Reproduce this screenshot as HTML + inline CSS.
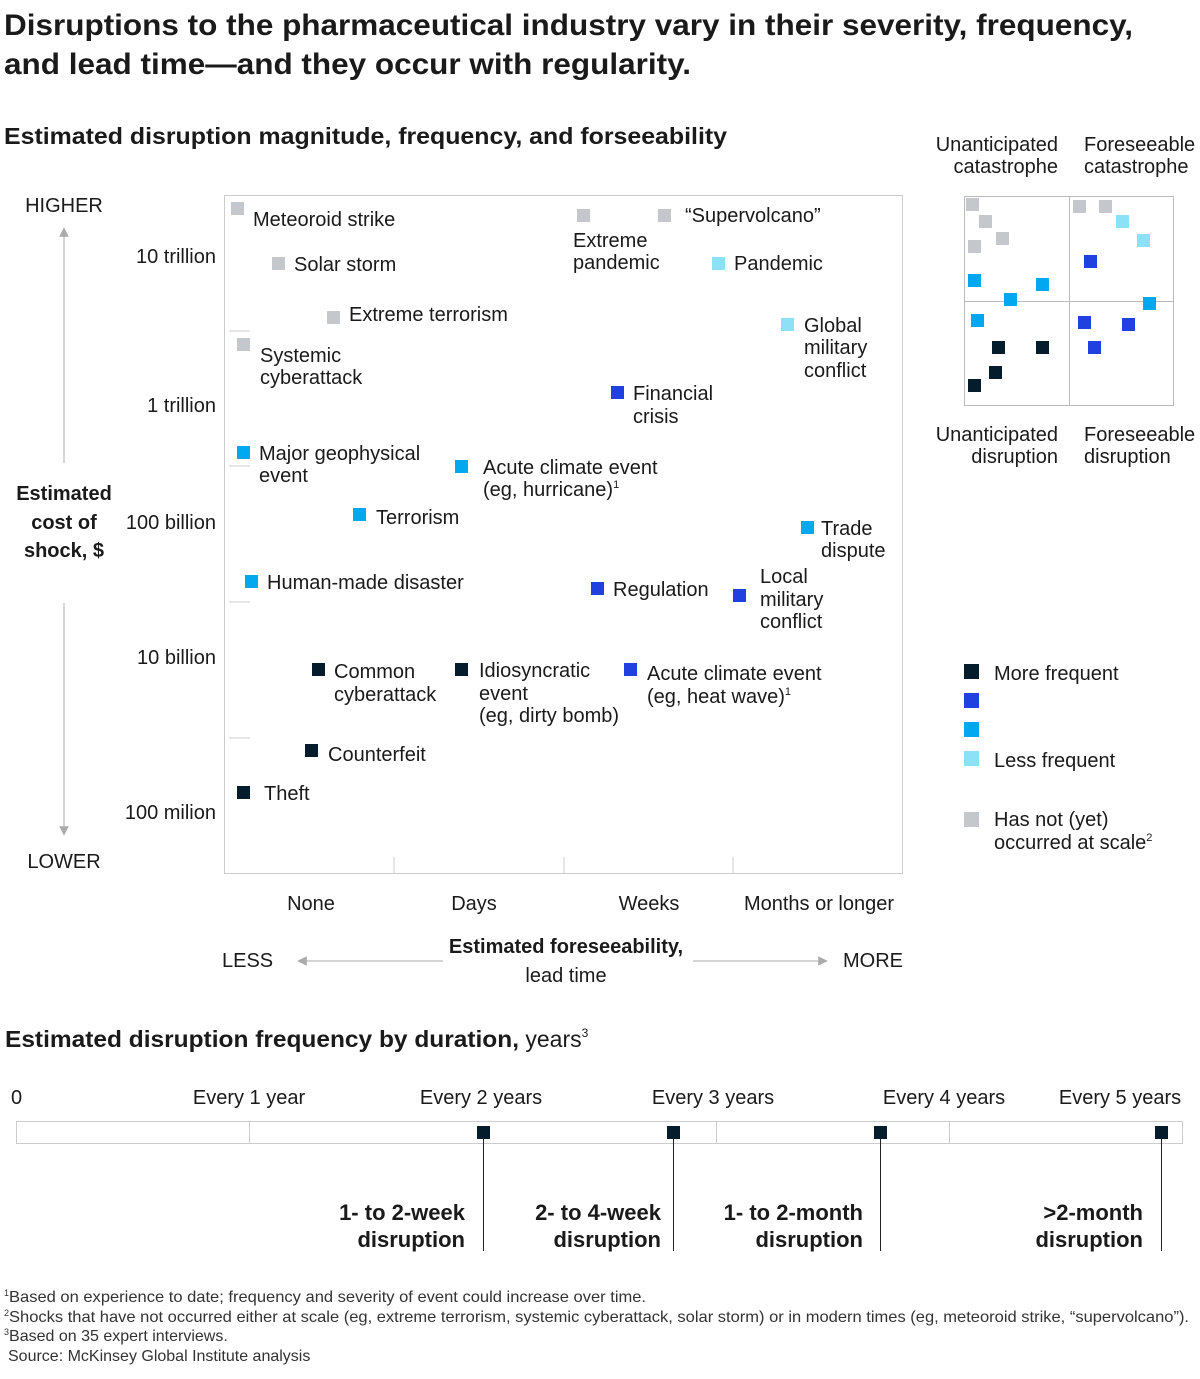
<!DOCTYPE html>
<html><head><meta charset="utf-8"><style>
body{margin:0;background:#fff}
svg{display:block;font-family:"Liberation Sans",Arial,sans-serif;fill:#1a1a1a}
.b{font-weight:bold}
</style></head><body>
<svg width="1200" height="1379" viewBox="0 0 1200 1379" xmlns="http://www.w3.org/2000/svg">
<defs><marker id="ah" markerWidth="8" markerHeight="8" refX="4" refY="4" orient="auto"><path d="M0,0 L8,4 L0,8 z" fill="#aaa"/></marker></defs>
<text x="4" y="35" font-size="30" class="b" textLength="1129" lengthAdjust="spacingAndGlyphs">Disruptions to the pharmaceutical industry vary in their severity, frequency,</text>
<text x="4" y="74" font-size="30" class="b" textLength="687" lengthAdjust="spacingAndGlyphs">and lead time—and they occur with regularity.</text>
<text x="4" y="144" font-size="23" class="b" textLength="723" lengthAdjust="spacingAndGlyphs">Estimated disruption magnitude, frequency, and forseeability</text>

<!-- main box -->
<rect x="224.5" y="195.5" width="678" height="678" fill="none" stroke="#ccc"/>
<g stroke="#ccc"><line x1="394" y1="857" x2="394" y2="874"/><line x1="564" y1="857" x2="564" y2="874"/><line x1="733" y1="857" x2="733" y2="874"/>
<line x1="229" y1="331" x2="250" y2="331"/><line x1="229" y1="466" x2="250" y2="466"/><line x1="229" y1="602" x2="250" y2="602"/><line x1="229" y1="738" x2="250" y2="738"/></g>

<g font-size="20" text-anchor="end">
<text x="216" y="263">10 trillion</text><text x="216" y="412">1 trillion</text><text x="216" y="529">100 billion</text><text x="216" y="664">10 billion</text><text x="216" y="819">100 milion</text></g>
<g font-size="20" text-anchor="middle">
<text x="64" y="212">HIGHER</text><text x="64" y="868">LOWER</text>
<text x="64" y="500" class="b">Estimated</text><text x="64" y="529" class="b">cost of</text><text x="64" y="557" class="b">shock, $</text>
<text x="311" y="910">None</text><text x="474" y="910">Days</text><text x="649" y="910">Weeks</text><text x="819" y="910">Months or longer</text>
<text x="566" y="953" class="b">Estimated foreseeability,</text><text x="566" y="982">lead time</text></g>
<text x="222" y="967" font-size="20">LESS</text><text x="843" y="967" font-size="20">MORE</text>
<g stroke="#bbb" stroke-width="1.2">
<line x1="64" y1="463" x2="64" y2="232" marker-end="url(#ah)"/><line x1="64" y1="603" x2="64" y2="831" marker-end="url(#ah)"/>
<line x1="443" y1="961" x2="302" y2="961" marker-end="url(#ah)"/><line x1="693" y1="961" x2="823" y2="961" marker-end="url(#ah)"/></g>

<!-- points -->
<g>
<rect x="231" y="202" width="13" height="13" fill="#c4c7cc"/>
<rect x="272" y="257" width="13" height="13" fill="#c4c7cc"/>
<rect x="327" y="311" width="13" height="13" fill="#c4c7cc"/>
<rect x="237" y="338" width="13" height="13" fill="#c4c7cc"/>
<rect x="577" y="209" width="13" height="13" fill="#c4c7cc"/>
<rect x="658" y="209" width="13" height="13" fill="#c4c7cc"/>
<rect x="712" y="257" width="13" height="13" fill="#8de1f7"/>
<rect x="781" y="318" width="13" height="13" fill="#8de1f7"/>
<rect x="611" y="386" width="13" height="13" fill="#2140e0"/>
<rect x="237" y="446" width="13" height="13" fill="#00a8f0"/>
<rect x="455" y="460" width="13" height="13" fill="#00a8f0"/>
<rect x="353" y="508" width="13" height="13" fill="#00a8f0"/>
<rect x="801" y="521" width="13" height="13" fill="#00a8f0"/>
<rect x="245" y="575" width="13" height="13" fill="#00a8f0"/>
<rect x="591" y="582" width="13" height="13" fill="#2140e0"/>
<rect x="733" y="589" width="13" height="13" fill="#2140e0"/>
<rect x="312" y="663" width="13" height="13" fill="#051c2c"/>
<rect x="455" y="663" width="13" height="13" fill="#051c2c"/>
<rect x="624" y="663" width="13" height="13" fill="#2140e0"/>
<rect x="305" y="744" width="13" height="13" fill="#051c2c"/>
<rect x="237" y="786" width="13" height="13" fill="#051c2c"/>
</g>
<g font-size="20">
<text x="253" y="226">Meteoroid strike</text>
<text x="294" y="271">Solar storm</text>
<text x="349" y="321">Extreme terrorism</text>
<text x="260" y="362">Systemic</text><text x="260" y="384">cyberattack</text>
<text x="573" y="247">Extreme</text><text x="573" y="269">pandemic</text>
<text x="685" y="222">“Supervolcano”</text>
<text x="734" y="270">Pandemic</text>
<text x="804" y="332">Global</text><text x="804" y="354">military</text><text x="804" y="377">conflict</text>
<text x="633" y="400">Financial</text><text x="633" y="423">crisis</text>
<text x="259" y="460">Major geophysical</text><text x="259" y="482">event</text>
<text x="483" y="474">Acute climate event</text><text x="483" y="496">(eg, hurricane)<tspan font-size="11" dy="-8">1</tspan></text>
<text x="376" y="524">Terrorism</text>
<text x="821" y="535">Trade</text><text x="821" y="557">dispute</text>
<text x="267" y="589">Human-made disaster</text>
<text x="613" y="596">Regulation</text>
<text x="760" y="583">Local</text><text x="760" y="606">military</text><text x="760" y="628">conflict</text>
<text x="334" y="678">Common</text><text x="334" y="701">cyberattack</text>
<text x="479" y="677">Idiosyncratic</text><text x="479" y="700">event</text><text x="479" y="722">(eg, dirty bomb)</text>
<text x="647" y="680">Acute climate event</text><text x="647" y="703">(eg, heat wave)<tspan font-size="11" dy="-8">1</tspan></text>
<text x="328" y="761">Counterfeit</text>
<text x="264" y="800">Theft</text>
</g>

<!-- quadrant -->
<g font-size="20">
<text x="1058" y="151" text-anchor="end">Unanticipated</text><text x="1058" y="173" text-anchor="end">catastrophe</text>
<text x="1084" y="151">Foreseeable</text><text x="1084" y="173">catastrophe</text>
<text x="1058" y="441" text-anchor="end">Unanticipated</text><text x="1058" y="463" text-anchor="end">disruption</text>
<text x="1084" y="441">Foreseeable</text><text x="1084" y="463">disruption</text></g>
<rect x="964.5" y="196.5" width="209" height="209" fill="none" stroke="#bbb"/>
<line x1="1069.5" y1="196" x2="1069.5" y2="406" stroke="#bbb"/><line x1="964" y1="301.5" x2="1174" y2="301.5" stroke="#bbb"/>
<g>
<rect x="966" y="198" width="13" height="13" fill="#c4c7cc"/><rect x="979" y="215" width="13" height="13" fill="#c4c7cc"/>
<rect x="996" y="232" width="13" height="13" fill="#c4c7cc"/><rect x="968" y="240" width="13" height="13" fill="#c4c7cc"/>
<rect x="968" y="274" width="13" height="13" fill="#00a8f0"/><rect x="1036" y="278" width="13" height="13" fill="#00a8f0"/>
<rect x="1004" y="293" width="13" height="13" fill="#00a8f0"/>
<rect x="1073" y="200" width="13" height="13" fill="#c4c7cc"/><rect x="1099" y="200" width="13" height="13" fill="#c4c7cc"/>
<rect x="1116" y="215" width="13" height="13" fill="#8de1f7"/><rect x="1137" y="234" width="13" height="13" fill="#8de1f7"/>
<rect x="1084" y="255" width="13" height="13" fill="#2140e0"/><rect x="1143" y="297" width="13" height="13" fill="#00a8f0"/>
<rect x="971" y="314" width="13" height="13" fill="#00a8f0"/>
<rect x="992" y="341" width="13" height="13" fill="#051c2c"/><rect x="1036" y="341" width="13" height="13" fill="#051c2c"/>
<rect x="989" y="366" width="13" height="13" fill="#051c2c"/><rect x="968" y="379" width="13" height="13" fill="#051c2c"/>
<rect x="1078" y="316" width="13" height="13" fill="#2140e0"/><rect x="1122" y="318" width="13" height="13" fill="#2140e0"/>
<rect x="1088" y="341" width="13" height="13" fill="#2140e0"/>
</g>

<!-- legend -->
<rect x="964" y="664" width="15" height="15" fill="#051c2c"/>
<rect x="964" y="693" width="15" height="15" fill="#2140e0"/>
<rect x="964" y="722" width="15" height="15" fill="#00a8f0"/>
<rect x="964" y="751" width="15" height="15" fill="#8de1f7"/>
<rect x="964" y="812" width="15" height="15" fill="#c4c7cc"/>
<g font-size="20"><text x="994" y="680">More frequent</text><text x="994" y="767">Less frequent</text>
<text x="994" y="826">Has not (yet)</text><text x="994" y="849">occurred at scale<tspan font-size="11" dy="-8">2</tspan></text></g>

<!-- bottom -->
<text x="5" y="1047" font-size="23"><tspan class="b" textLength="514" lengthAdjust="spacingAndGlyphs">Estimated disruption frequency by duration,</tspan> years<tspan font-size="12" dy="-10">3</tspan></text>
<g font-size="20">
<text x="11" y="1104">0</text>
<text x="249" y="1104" text-anchor="middle">Every 1 year</text>
<text x="481" y="1104" text-anchor="middle">Every 2 years</text>
<text x="713" y="1104" text-anchor="middle">Every 3 years</text>
<text x="944" y="1104" text-anchor="middle">Every 4 years</text>
<text x="1120" y="1104" text-anchor="middle">Every 5 years</text></g>
<rect x="16.5" y="1121.5" width="1166" height="22" fill="none" stroke="#ccc"/>
<g stroke="#ccc"><line x1="249.5" y1="1121" x2="249.5" y2="1144"/><line x1="716.5" y1="1121" x2="716.5" y2="1144"/><line x1="949.5" y1="1121" x2="949.5" y2="1144"/></g>
<g stroke="#222" stroke-width="1">
<line x1="483.5" y1="1132" x2="483.5" y2="1251"/><line x1="673.5" y1="1132" x2="673.5" y2="1251"/>
<line x1="880.5" y1="1132" x2="880.5" y2="1251"/><line x1="1161.5" y1="1132" x2="1161.5" y2="1251"/></g>
<g fill="#051c2c"><rect x="477" y="1126" width="13" height="13"/><rect x="667" y="1126" width="13" height="13"/>
<rect x="874" y="1126" width="13" height="13"/><rect x="1155" y="1126" width="13" height="13"/></g>
<g font-size="22" class="b" text-anchor="end">
<text x="465" y="1220">1- to 2-week</text><text x="465" y="1247">disruption</text>
<text x="661" y="1220">2- to 4-week</text><text x="661" y="1247">disruption</text>
<text x="863" y="1220">1- to 2-month</text><text x="863" y="1247">disruption</text>
<text x="1143" y="1220">&gt;2-month</text><text x="1143" y="1247">disruption</text></g>

<g font-size="16" fill="#333">
<text x="4" y="1302"><tspan font-size="9" dy="-6">1</tspan><tspan dy="6" textLength="637" lengthAdjust="spacingAndGlyphs">Based on experience to date; frequency and severity of event could increase over time.</tspan></text>
<text x="4" y="1322"><tspan font-size="9" dy="-6">2</tspan><tspan dy="6" textLength="1180" lengthAdjust="spacingAndGlyphs">Shocks that have not occurred either at scale (eg, extreme terrorism, systemic cyberattack, solar storm) or in modern times (eg, meteoroid strike, “supervolcano”).</tspan></text>
<text x="4" y="1341"><tspan font-size="9" dy="-6">3</tspan><tspan dy="6">Based on 35 expert interviews.</tspan></text>
<text x="8" y="1361">Source: McKinsey Global Institute analysis</text></g>
</svg>
</body></html>
